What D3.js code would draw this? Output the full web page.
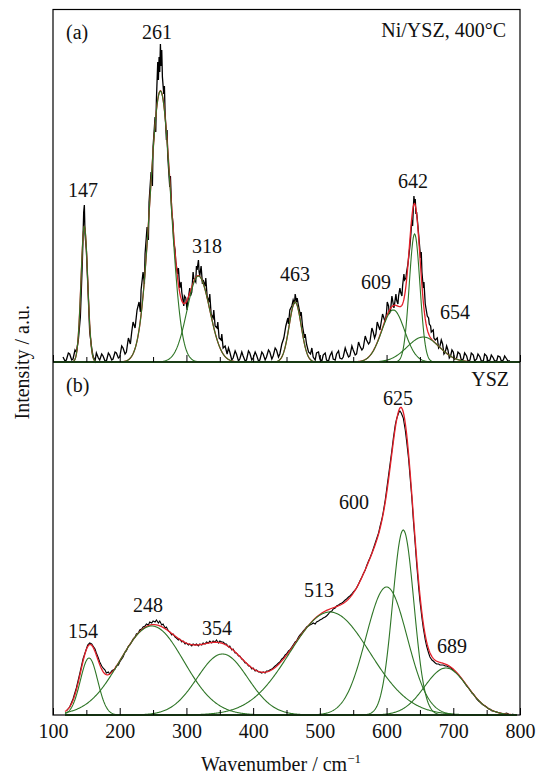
<!DOCTYPE html>
<html><head><meta charset="utf-8">
<script src="https://cdn.jsdelivr.net/npm/d3@7/dist/d3.min.js"></script>
<style>
body{margin:0;background:#fff}
text{font-family:"Liberation Serif","Times New Roman",serif;fill:#111}
</style>
</head><body>
<svg id="c" width="544" height="775"></svg>
<script>
// ---------------- DATA ----------------
const xTickValues = [100,150,200,250,300,350,400,450,500,550,600,650,700,750,800];
const xTickLabels = ["100","200","300","400","500","600","700","800"];

// Panel (a) Ni/YSZ, 400°C : fitted peak components (center cm-1, height a.u., width sigma cm-1)
const centersA = [147, 261, 318, 463, 610, 642, 655];
const heightsA = [136, 271, 86, 60, 52, 128, 25];
const sigmasA  = [5, 15.5, 17, 9, 17, 8, 24];
const peakLabelsA = ["147","261","318","463","609","642","654"];

// Panel (b) YSZ : fitted peak components
const centersB = [154, 248, 354, 515, 600, 625, 689];
const heightsB = [57, 89, 61, 103, 128, 185, 47];
const sigmasB  = [13, 48, 38, 60, 31, 16, 32];
const peakLabelsB = ["154","248","354","513","600","625","689"];

// Measured spectrum (a): [wavenumber, intensity]
const measuredA = [[115,5],[118,1],[120,2],[123,9],[125,8],[128,2],[130,3],[133,12],[135,10],[138,22],[141,45],[144,100],[146,150],[147,157],[148,128],[150,112],[152,80],[155,30],[158,14],[160,6],[163,1],[165,9],[168,4],[170,2],[173,8],[175,6],[178,1],[180,1],[183,9],[185,7],[188,2],[190,3],[193,10],[195,9],[198,4],[200,5],[203,16],[205,14],[208,8],[210,10],[213,24],[216,18],[218,30],[220,40],[223,34],[226,52],[229,60],[231,50],[232,72],[235,90],[237,78],[238,108],[241,135],[243,122],[244,160],[247,190],[249,176],[250,215],[253,245],[254,230],[255,262],[257,300],[258,282],[259,305],[260,290],[261,318],[262,296],[263,312],[264,285],[266,268],[267,276],[268,250],[270,222],[271,232],[272,206],[275,175],[276,186],[278,150],[280,138],[281,120],[283,112],[284,100],[287,88],[288,94],[290,74],[292,80],[293,70],[296,56],[297,66],[299,64],[301,52],[302,60],[305,74],[306,66],[308,70],[310,90],[311,84],[314,80],[315,96],[316,92],[318,102],[319,90],[320,86],[322,96],[324,78],[325,82],[328,76],[329,84],[331,66],[334,60],[335,68],[337,48],[340,44],[341,52],[343,36],[346,34],[347,40],[349,24],[352,22],[353,28],[355,14],[358,16],[361,8],[363,14],[365,10],[368,2],[370,4],[373,11],[375,8],[378,1],[380,3],[383,10],[385,6],[388,1],[390,2],[393,11],[395,9],[398,2],[400,4],[403,10],[405,7],[408,1],[410,2],[413,10],[415,8],[418,2],[420,5],[423,12],[425,10],[428,3],[430,6],[433,14],[435,12],[438,5],[440,8],[443,18],[446,24],[449,36],[452,44],[453,38],[455,52],[458,56],[460,62],[462,58],[463,68],[465,60],[466,64],[468,56],[471,46],[472,50],[474,36],[477,24],[478,28],[480,18],[483,10],[486,8],[488,14],[490,5],[493,2],[495,9],[498,10],[500,3],[503,1],[505,7],[508,9],[510,2],[513,1],[515,6],[518,10],[520,3],[523,2],[525,8],[528,11],[530,4],[533,3],[535,5],[538,14],[540,10],[543,5],[545,6],[548,16],[550,12],[553,7],[555,8],[558,20],[560,16],[563,12],[565,14],[568,26],[570,22],[573,18],[575,20],[578,34],[580,30],[582,24],[584,28],[586,40],[588,36],[590,32],[592,40],[594,48],[596,44],[598,40],[600,50],[601,60],[603,56],[604,48],[606,52],[608,66],[609,62],[611,54],[612,58],[614,68],[615,62],[617,58],[618,66],[620,74],[621,70],[623,66],[624,76],[626,88],[627,82],[629,84],[630,90],[632,98],[633,104],[635,116],[636,124],[638,142],[639,136],[640,152],[641,166],[642,158],[643,163],[644,148],[645,150],[647,136],[648,128],[649,120],[651,104],[652,110],[653,90],[655,74],[656,80],[658,58],[660,50],[661,46],[663,44],[664,38],[666,36],[667,30],[670,32],[671,24],[673,22],[676,24],[678,14],[680,16],[682,22],[684,18],[686,8],[688,10],[690,16],[692,12],[694,4],[696,6],[698,12],[700,10],[702,3],[705,4],[707,10],[710,8],[712,2],[715,3],[717,9],[720,6],[722,1],[725,2],[727,9],[730,7],[732,1],[735,3],[737,8],[740,5],[742,1],[745,1],[747,8],[750,6],[752,1],[755,2],[757,7],[760,4],[762,1],[765,1],[767,6],[770,5],[772,1],[775,2],[777,6],[780,3],[782,1],[785,1]];

// Measured spectrum (b): [wavenumber, intensity]
const measuredB = [[120,4],[125,8],[130,16],[135,27],[140,41],[145,56],[148,62],[150,66],[152,70],[155,72],[158,71],[160,69],[163,66],[165,62],[168,57],[170,53],[173,49],[175,47],[178,45],[180,42],[183,43],[185,41],[188,44],[190,45],[193,46],[195,49],[198,50],[200,53],[203,56],[205,58],[208,63],[210,64],[213,69],[215,70],[218,73],[220,76],[223,78],[225,81],[228,82],[230,85],[233,86],[235,88],[238,89],[240,91],[243,90],[245,93],[248,92],[250,94],[253,93],[255,95],[258,92],[260,94],[263,90],[265,91],[268,87],[270,88],[273,84],[275,83],[278,80],[280,81],[283,78],[285,77],[288,75],[290,76],[293,73],[295,74],[298,71],[300,72],[303,70],[305,71],[308,69],[310,71],[313,70],[315,71],[318,69],[320,71],[323,70],[325,72],[328,71],[330,73],[333,72],[335,74],[338,72],[340,74],[343,73],[345,75],[348,72],[350,74],[353,73],[355,73],[358,71],[360,71],[363,68],[365,69],[368,65],[370,66],[373,62],[375,62],[378,59],[380,59],[383,56],[385,55],[388,52],[390,52],[393,49],[395,49],[398,46],[400,47],[403,44],[405,45],[408,43],[410,43],[413,42],[415,43],[418,42],[420,44],[423,44],[425,45],[428,46],[430,47],[433,49],[435,50],[438,52],[440,53],[443,56],[445,57],[448,60],[450,61],[453,64],[455,65],[458,68],[460,70],[463,73],[465,74],[468,78],[470,80],[473,82],[475,84],[478,86],[480,88],[483,89],[485,90],[488,91],[490,92],[493,91],[495,93],[498,94],[500,95],[503,96],[505,97],[508,98],[510,99],[513,101],[515,103],[518,104],[520,106],[523,107],[525,109],[528,110],[530,111],[533,112],[535,113],[538,115],[540,116],[543,118],[545,119],[548,121],[550,123],[553,125],[555,127],[558,131],[560,134],[563,138],[565,141],[568,145],[570,149],[573,154],[575,157],[578,162],[580,166],[583,172],[585,176],[588,182],[590,188],[593,196],[595,203],[598,215],[600,225],[603,240],[605,250],[608,265],[610,276],[613,290],[615,296],[618,302],[620,304],[622,302],[625,297],[628,285],[630,274],[633,256],[635,240],[638,216],[640,196],[643,170],[645,152],[648,128],[650,114],[653,97],[655,87],[658,75],[660,69],[663,62],[665,58],[668,55],[670,54],[673,52],[675,51],[678,51],[680,50],[683,50],[685,50],[688,49],[690,49],[693,48],[695,48],[698,46],[700,45],[703,43],[705,42],[708,40],[710,38],[713,36],[715,34],[718,31],[720,29],[723,27],[725,25],[728,22],[730,21],[733,18],[735,16],[738,14],[740,13],[743,11],[745,10],[748,9],[750,8],[753,6],[755,6],[758,4],[760,4],[765,3],[770,2],[775,1],[780,2],[785,0],[790,1]];

// ---------------- LAYOUT ----------------
const L = 53, R = 520, T = 9.5, MID = 362, B = 715;
const svg = d3.select("#c");
const x = d3.scaleLinear().domain([100, 800]).range([L, R]);
const yA = d3.scaleLinear().domain([0, 352.5]).range([MID, T]);
const yB = d3.scaleLinear().domain([0, 353]).range([B, MID]);

const GREEN = "#2e7526", RED = "#e3202a";

function gauss(c, h, s, w) { return h * Math.exp(-((w - c) * (w - c)) / (2 * s * s)); }

function drawPanel(y, centers, heights, sigmas, measured, wnFrom, wnTo, dataWidth) {
  const g = svg.append("g");
  const wn = d3.range(wnFrom, wnTo + 0.001, 1);
  const line = d3.line().x(d => x(d[0])).y(d => y(d[1])).curve(d3.curveLinear);
  g.append("path").datum(measured).attr("d", line)
    .attr("fill", "none").attr("stroke", "#000").attr("stroke-width", dataWidth).attr("stroke-linejoin", "miter");
  const fit = wn.map(w => [w, d3.sum(centers, (c, i) => gauss(c, heights[i], sigmas[i], w))]);
  g.append("path").datum(fit).attr("d", line)
    .attr("fill", "none").attr("stroke", RED).attr("stroke-width", 1.3);
  centers.forEach((c, i) => {
    const comp = wn.map(w => [w, gauss(c, heights[i], sigmas[i], w)]);
    g.append("path").datum(comp).attr("d", line)
      .attr("fill", "none").attr("stroke", GREEN).attr("stroke-width", 1.1);
  });
}

drawPanel(yA, centersA, heightsA, sigmasA, measuredA, 100, 800, 1.3);
drawPanel(yB, centersB, heightsB, sigmasB, measuredB, 118, 795, 1.1);

// frame
svg.append("rect").attr("x", L).attr("y", T).attr("width", R - L).attr("height", B - T)
  .attr("fill", "none").attr("stroke", "#000").attr("stroke-width", 1.2);
svg.append("line").attr("x1", L).attr("x2", R).attr("y1", MID).attr("y2", MID)
  .attr("stroke", "#000").attr("stroke-width", 1);

// bottom axis (panel b), inward ticks
const axisB = d3.axisBottom(x).tickValues(xTickValues)
  .tickSizeInner(-6).tickSizeOuter(0).tickFormat(d => xTickLabels.includes(String(d)) ? String(d) : "");
const gAx = svg.append("g").attr("transform", `translate(0,${B})`).call(axisB);
gAx.select(".domain").remove();
gAx.selectAll(".tick line").attr("stroke", "#000").attr("stroke-width", 1)
  .attr("y2", d => (d % 100 === 0 ? -7 : -5));
gAx.selectAll(".tick text").attr("y", 23).attr("dy", 0)
  .style("font-size", "20px").style("font-family", "'Liberation Serif','Times New Roman',serif").attr("fill", "#111");

// panel (a) bottom inward ticks
const axisA = d3.axisBottom(x).tickValues(xTickValues).tickSizeInner(-6).tickSizeOuter(0).tickFormat("");
const gAxA = svg.append("g").attr("transform", `translate(0,${MID})`).call(axisA);
gAxA.select(".domain").remove();
gAxA.selectAll(".tick line").attr("stroke", "#000").attr("stroke-width", 1)
  .attr("y2", d => (d % 100 === 0 ? -7 : -5));

// text
function txt(str, px, py, anchor) {
  return svg.append("text").attr("x", px).attr("y", py).attr("text-anchor", anchor || "middle")
    .style("font-size", "20px").text(str);
}
txt("(a)", 66, 39, "start");
txt("Ni/YSZ, 400°C", 506, 37, "end");
txt("(b)", 66, 392, "start");
txt("YSZ", 509, 386, "end");

const labelPosA = {"147":[83,197],"261":[157,39],"318":[207,253],"463":[295,281],"609":[376,289],"642":[413,188],"654":[455,319]};
const labelPosB = {"154":[83,638],"248":[148,612],"354":[217,635],"513":[319,597],"600":[354,509],"625":[398,405],"689":[452,653]};
peakLabelsA.forEach(l => txt(l, labelPosA[l][0], labelPosA[l][1]));
peakLabelsB.forEach(l => txt(l, labelPosB[l][0], labelPosB[l][1]));

// axis titles
const xt = svg.append("text").attr("x", 281).attr("y", 771).attr("text-anchor", "middle").style("font-size", "20px");
xt.append("tspan").text("Wavenumber / cm");
xt.append("tspan").attr("dy", -8).style("font-size", "13px").text("\u22121");

svg.append("text").attr("transform", `translate(29,${(T + B) / 2}) rotate(-90)`)
  .attr("text-anchor", "middle").style("font-size", "20px").text("Intensity / a.u.");
</script>
</body></html>
